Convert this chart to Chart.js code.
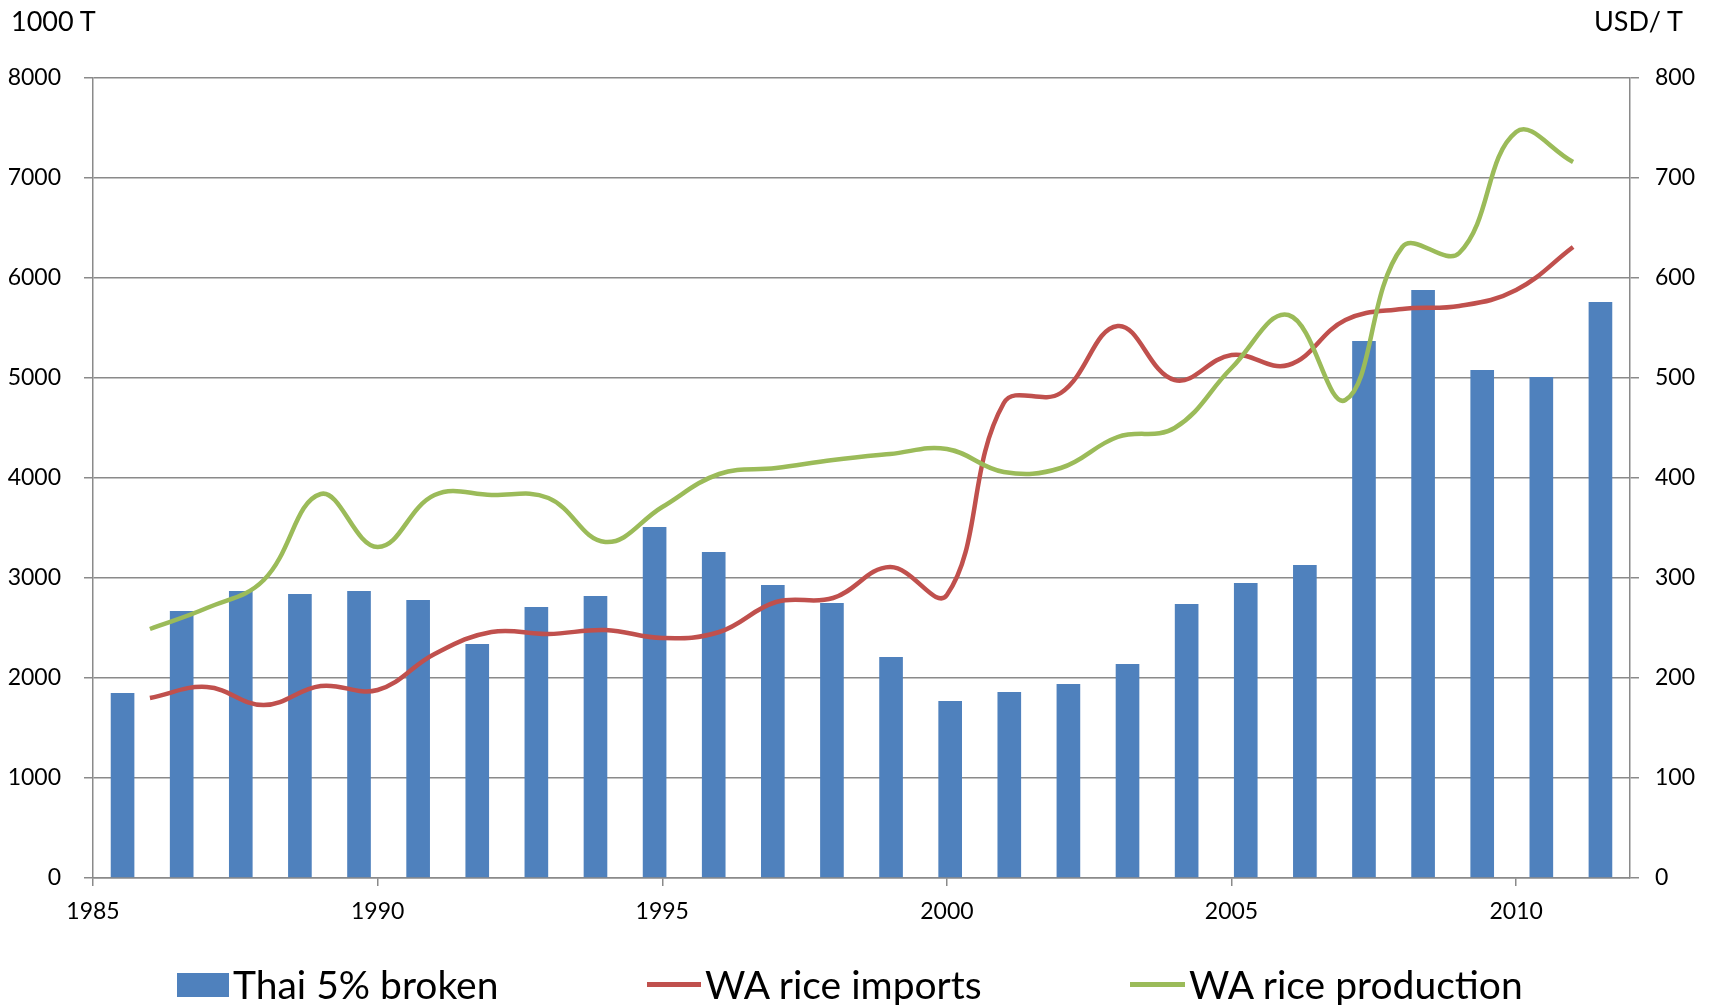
<!DOCTYPE html>
<html>
<head>
<meta charset="utf-8">
<script src="https://cdn.jsdelivr.net/npm/chart.js@4/dist/chart.umd.min.js"></script>
<style>
  body { margin: 0; background: #fff; font-family: Lato, "Liberation Sans", sans-serif; }
  #wrap { position: relative; width: 1713px; height: 1005px; }
  .unit { position: absolute; font-size: 27px; color: #000; line-height: 1; }
  .legend { position: absolute; top: 965px; font-size: 39px; line-height: 1; color: #000; display: flex; align-items: center; }
  .swatch { display: inline-block; margin-right: 4px; }
</style>
</head>
<body>
<div id="wrap">
  <canvas id="chart" width="1713" height="1005"></canvas>
  <div class="unit" style="left:11px; top:7px;">1000 T</div>
  <div class="unit" style="right:30px; top:7px;">USD/ T</div>
  <div class="legend" style="left:177px;"><span class="swatch" style="width:52px;height:24px;background:#4F81BD;"></span>Thai 5% broken</div>
  <div class="legend" style="left:647px;"><span class="swatch" style="width:54px;height:5px;background:#C0504D;"></span>WA rice imports</div>
  <div class="legend" style="left:1130px;"><span class="swatch" style="width:55px;height:5px;background:#9BBB59;"></span>WA rice production</div>
</div>
<script>
// Data
const years = [1986, 1987, 1988, 1989, 1990, 1991, 1992, 1993, 1994, 1995, 1996, 1997, 1998,
  1999, 2000, 2001, 2002, 2003, 2004, 2005, 2006, 2007, 2008, 2009, 2010, 2011];
// Thai 5% broken, USD/T (right axis)
const thaiBroken = [185, 267, 287, 284, 287, 278, 234, 271, 282, 351, 326, 293, 275,
  221, 177, 186, 194, 214, 274, 295, 313, 537, 588, 508, 501, 576];
// West Africa, 1000 T (left axis)
const riceImports = [1800, 1910, 1730, 1920, 1880, 2240, 2460, 2440, 2480, 2400, 2460, 2760, 2800,
  3110, 2830, 4750, 4850, 5520, 4980, 5230, 5130, 5580, 5690, 5720, 5880, 6310];
const riceProduction = [2490, 2700, 2980, 3840, 3310, 3830, 3830, 3800, 3360, 3710, 4040, 4100, 4180,
  4240, 4290, 4060, 4100, 4410, 4500, 5100, 5630, 4780, 6310, 6250, 7460, 7160];
const yearTicks = [1985, 1990, 1995, 2000, 2005, 2010];

const gridColor = "#8a8a8a";
const tickFont = { family: "Lato", size: 23 };

const toPoints = vals => vals.map((v, i) => ({ x: years[i], y: v }));

new Chart(document.getElementById("chart"), {
  type: "bar",
  data: {
    labels: years,
    datasets: [
      {
        type: "line",
        label: "WA rice production",
        data: toPoints(riceProduction),
        xAxisID: "x",
        yAxisID: "y",
        borderColor: "#9BBB59",
        borderWidth: 4.5,
        pointRadius: 0,
        tension: 0.4,
        order: 1,
      },
      {
        type: "line",
        label: "WA rice imports",
        data: toPoints(riceImports),
        xAxisID: "x",
        yAxisID: "y",
        borderColor: "#C0504D",
        borderWidth: 4.5,
        pointRadius: 0,
        tension: 0.4,
        order: 2,
      },
      {
        type: "bar",
        label: "Thai 5% broken",
        data: thaiBroken,
        xAxisID: "xb",
        yAxisID: "y1",
        backgroundColor: "#4F81BD",
        grouped: false,
        categoryPercentage: 1,
        barPercentage: 0.4,
        order: 3,
      },
    ],
  },
  options: {
    responsive: false,
    animation: false,
    layout: { padding: { top: 78, left: 0, right: 0, bottom: 0 } },
    plugins: {
      legend: { display: false },
      tooltip: { enabled: false },
    },
    scales: {
      xb: {
        type: "category",
        display: false,
        offset: true,
      },
      x: {
        type: "linear",
        position: "bottom",
        offset: false,
        min: 1985,
        max: 2012,
        afterBuildTicks: scale => {
          scale.ticks = yearTicks.map(v => ({ value: v }));
        },
        afterFit: scale => { scale.height = 127; },
        grid: { offset: false, drawOnChartArea: false, color: gridColor, lineWidth: 1.5, tickLength: 8 },
        border: { color: gridColor, width: 1.5 },
        ticks: { color: "#000", font: tickFont, padding: 12, maxRotation: 0, callback: v => String(v) },
      },
      y: {
        position: "left",
        min: 0,
        max: 8000,
        afterFit: scale => { scale.width = 93; },
        grid: { color: gridColor, lineWidth: 1.5, tickLength: 9 },
        border: { color: gridColor, width: 1.5 },
        ticks: { stepSize: 1000, color: "#000", font: tickFont, padding: 23, callback: v => String(v) },
      },
      y1: {
        position: "right",
        min: 0,
        max: 800,
        afterFit: scale => { scale.width = 83; },
        grid: { drawOnChartArea: false, color: gridColor, lineWidth: 1.5, tickLength: 9 },
        border: { color: gridColor, width: 1.5 },
        ticks: { stepSize: 100, color: "#000", font: tickFont, padding: 16, callback: v => String(v) },
      },
    },
  },
});
</script>
</body>
</html>
